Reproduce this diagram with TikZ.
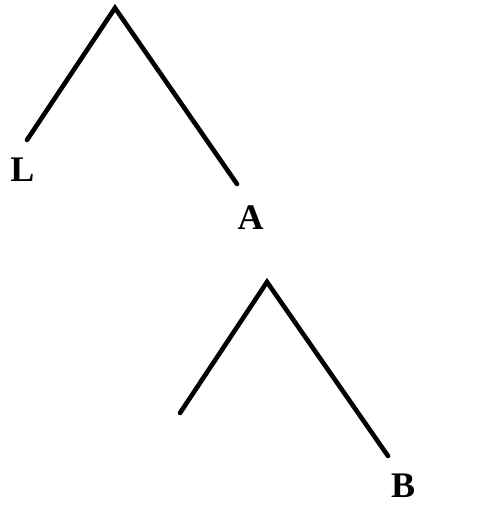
\documentclass[tikz,border=0pt]{standalone}
\usepackage{fontspec}
\setmainfont{Liberation Serif}
\begin{document}
\begin{tikzpicture}[x=1pt,y=-1pt,
  branch/.style={line width=4.6pt,line cap=round,line join=miter,black},
  leaf/.style={font=\fontsize{36}{36}\selectfont\bfseries,inner sep=0pt}]
\useasboundingbox (0,0) rectangle (502,508);
% first tree
\coordinate (t1) at (115,8);
\coordinate (l1) at (27,140);
\coordinate (r1) at (237,184);
\node[leaf] (L) at (22.5,169.5) {L};
\node[leaf] (A) at (250.5,218) {A};
\draw[branch] (l1) -- (t1) -- (r1);
% second tree
\coordinate (t2) at (267,282);
\coordinate (l2) at (180,413);
\coordinate (r2) at (388,456);
\node[leaf] (B) at (403,485.5) {B};
\draw[branch] (l2) -- (t2) -- (r2);
\end{tikzpicture}
\end{document}
